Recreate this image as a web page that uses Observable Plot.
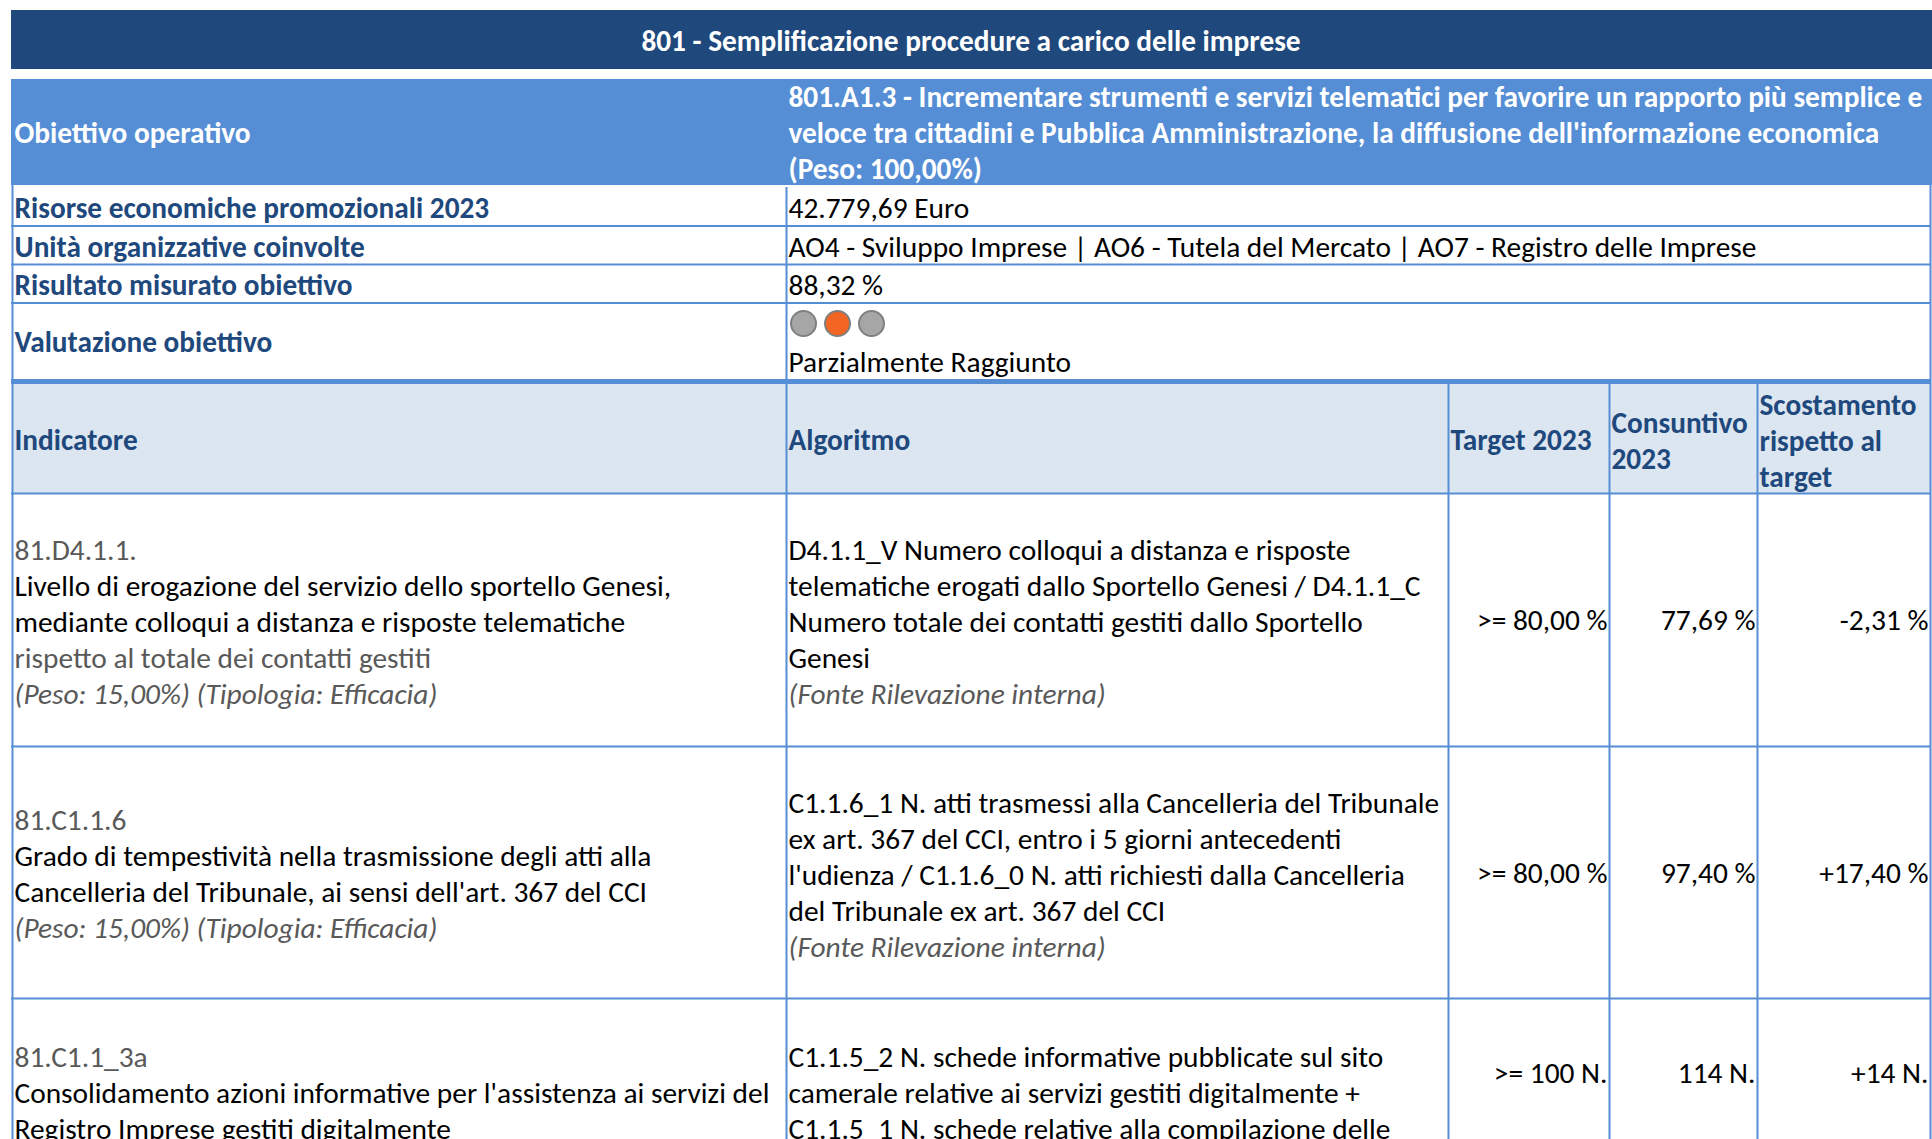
<!DOCTYPE html>
<html>
<head>
<meta charset="utf-8">
<script src="https://cdn.jsdelivr.net/npm/d3@7"></script>
<script src="https://cdn.jsdelivr.net/npm/@observablehq/plot@0.6"></script>
<style>
  html, body { margin: 0; padding: 0; background: #ffffff; }
  svg { display: block; }
</style>
</head>
<body>
<div id="chart"></div>
<script>
// ---------------- DATA ----------------
const titleText = "801 - Semplificazione procedure a carico delle imprese";
const infoLabels = [
  "Obiettivo operativo",
  "Risorse economiche promozionali 2023",
  "Unità organizzative coinvolte",
  "Risultato misurato obiettivo",
  "Valutazione obiettivo"
];
const obiettivoLines = [
  "801.A1.3 - Incrementare strumenti e servizi telematici per favorire un rapporto più semplice e",
  "veloce tra cittadini e Pubblica Amministrazione, la diffusione dell'informazione economica",
  "(Peso: 100,00%)"
];
const risorseValue = "42.779,69 Euro";
const unitaValue = "AO4 - Sviluppo Imprese | AO6 - Tutela del Mercato | AO7 - Registro delle Imprese";
const risultatoValue = "88,32 %";
const valutazioneValue = "Parzialmente Raggiunto";
const semaforoStates = ["off", "on", "off"];

const headerLabels = [
  ["Indicatore"],
  ["Algoritmo"],
  ["Target 2023"],
  ["Consuntivo", "2023"],
  ["Scostamento", "rispetto al", "target"]
];

const indicatorCodes = ["81.D4.1.1.", "81.C1.1.6", "81.C1.1_3a"];
const indicatorNames = [
  ["Livello di erogazione del servizio dello sportello Genesi,", "mediante colloqui a distanza e risposte telematiche"],
  ["Grado di tempestività nella trasmissione degli atti alla", "Cancelleria del Tribunale, ai sensi dell'art. 367 del CCI"],
  ["Consolidamento azioni informative per l'assistenza ai servizi del", "Registro Imprese gestiti digitalmente"]
];
const indicatorNotes = [
  ["rispetto al totale dei contatti gestiti"],
  [],
  []
];
const indicatorPeso = [
  "(Peso: 15,00%) (Tipologia: Efficacia)",
  "(Peso: 15,00%) (Tipologia: Efficacia)",
  "(Peso: 15,00%) (Tipologia: Efficacia)"
];
const algoritmi = [
  ["D4.1.1_V Numero colloqui a distanza e risposte", "telematiche erogati dallo Sportello Genesi / D4.1.1_C", "Numero totale dei contatti gestiti dallo Sportello", "Genesi"],
  ["C1.1.6_1 N. atti trasmessi alla Cancelleria del Tribunale", "ex art. 367 del CCI, entro i 5 giorni antecedenti", "l'udienza / C1.1.6_0 N. atti richiesti dalla Cancelleria", "del Tribunale ex art. 367 del CCI"],
  ["C1.1.5_2 N. schede informative pubblicate sul sito", "camerale relative ai servizi gestiti digitalmente +", "C1.1.5_1 N. schede relative alla compilazione delle"]
];
const fonteText = "(Fonte Rilevazione interna)";
const targets = [">= 80,00 %", ">= 80,00 %", ">= 100 N."];
const consuntivi = ["77,69 %", "97,40 %", "114 N."];
const scostamenti = ["-2,31 %", "+17,40 %", "+14 N."];

// ---------------- LAYOUT ----------------
const W = 1932, H = 1139;
const FONT = "Calibri, Carlito, Lato, sans-serif";
const LH = 36;                               // line height
const colB = [12, 786, 1448, 1609, 1757, 1930]; // column borders
const padL = 2, padR = 2;
const C = {
  dark: "#1F497D", mid: "#558ED5", pale: "#DCE6F1",
  label: "#1F497D", text: "#000000", gray: "#595959",
  on: "#F26522", off: "#A6A6A6", offStroke: "#7F7F7F"
};
const infoY = [133, 208, 247, 285, 342];
const rowsLayout = [
  {top: 493, valueY: 620, indFirst: 550, algFirst: 550},
  {top: 746, valueY: 873, indFirst: 820, algFirst: 803},
  {top: 998, valueY: 1073, indFirst: 1057, algFirst: 1057}
];

// ---------------- BUILD ----------------
const bands = [
  {x1: 11, x2: 1932, y1: 10, y2: 69, fill: C.dark},
  {x1: 11, x2: 1932, y1: 79, y2: 185, fill: C.mid},
  {x1: 12, x2: 1931, y1: 384, y2: 493, fill: C.pale},
  {x1: 11, x2: 1931, y1: 379, y2: 384, fill: C.mid}
];
const hRules = [
  {y: 225.5, x1: 11, x2: 1931},
  {y: 264, x1: 11, x2: 1931},
  {y: 302.5, x1: 11, x2: 1931},
  {y: 493, x1: 11, x2: 1931},
  {y: 746, x1: 11, x2: 1931},
  {y: 998, x1: 11, x2: 1931}
];
const vRules = [
  {x: colB[0], y1: 185, y2: H},
  {x: colB[1], y1: 187, y2: H},
  {x: colB[5], y1: 185, y2: H},
  {x: colB[2], y1: 384, y2: H},
  {x: colB[3], y1: 384, y2: H},
  {x: colB[4], y1: 384, y2: H}
];

const whiteBold = [];
const labelBold = [];
const plain = [];
const grayPlain = [];
const grayItalic = [];
const rightPlain = [];

whiteBold.push({x: (11 + 1930) / 2, y: 41, t: titleText, a: "middle"});
whiteBold.push({x: colB[0] + padL, y: infoY[0], t: infoLabels[0], a: "start"});
obiettivoLines.forEach((t, i) => whiteBold.push({x: colB[1] + padL, y: 97 + i * LH, t, a: "start"}));
infoLabels.slice(1).forEach((t, i) => labelBold.push({x: colB[0] + padL, y: infoY[i + 1], t}));
plain.push({x: colB[1] + padL, y: infoY[1], t: risorseValue});
plain.push({x: colB[1] + padL, y: infoY[2], t: unitaValue});
plain.push({x: colB[1] + padL, y: infoY[3], t: risultatoValue});
plain.push({x: colB[1] + padL, y: 362, t: valutazioneValue});
const lights = semaforoStates.map((s, i) => ({x: 803 + i * 34, y: 323, fill: s === "on" ? C.on : C.off}));

const hdrTop = [440, 440, 440, 423, 405];
headerLabels.forEach((lines, c) => lines.forEach((t, i) =>
  labelBold.push({x: colB[c] + padL, y: hdrTop[c] + i * LH, t})));

rowsLayout.forEach((r, k) => {
  let y = r.indFirst;
  grayPlain.push({x: colB[0] + padL, y, t: indicatorCodes[k]}); y += LH;
  indicatorNames[k].forEach(t => { plain.push({x: colB[0] + padL, y, t}); y += LH; });
  indicatorNotes[k].forEach(t => { grayPlain.push({x: colB[0] + padL, y, t}); y += LH; });
  grayItalic.push({x: colB[0] + padL, y, t: indicatorPeso[k]});
  let ya = r.algFirst;
  algoritmi[k].forEach(t => { plain.push({x: colB[1] + padL, y: ya, t}); ya += LH; });
  grayItalic.push({x: colB[1] + padL, y: ya, t: fonteText});
  rightPlain.push({x: colB[3] - padR, y: r.valueY, t: targets[k]});
  rightPlain.push({x: colB[4] - padR, y: r.valueY, t: consuntivi[k]});
  rightPlain.push({x: colB[5] - padR, y: r.valueY, t: scostamenti[k]});
});

const FS = 29.4, FSB = 29.3;
const common = {x: "x", y: "y", text: "t", lineAnchor: "middle", fontFamily: FONT};

const chart = Plot.plot({
  width: W, height: H,
  margin: 0,
  x: {domain: [0, W], range: [0, W], axis: null},
  y: {domain: [0, H], range: [0, H], axis: null},
  style: {background: "#ffffff"},
  marks: [
    Plot.rect(bands, {x1: "x1", x2: "x2", y1: "y1", y2: "y2", fill: "fill"}),
    Plot.ruleY(hRules, {y: "y", x1: "x1", x2: "x2", stroke: C.mid, strokeWidth: 2}),
    Plot.ruleX(vRules, {x: "x", y1: "y1", y2: "y2", stroke: C.mid, strokeWidth: 2}),
    Plot.dot(lights, {x: "x", y: "y", r: 12.5, fill: "fill", stroke: C.offStroke, strokeWidth: 2}),
    Plot.text(whiteBold.filter(d => d.a === "middle"), {...common, textAnchor: "middle", fill: "#ffffff", fontWeight: "bold", fontSize: FSB}),
    Plot.text(whiteBold.filter(d => d.a === "start"), {...common, textAnchor: "start", fill: "#ffffff", fontWeight: "bold", fontSize: FSB}),
    Plot.text(labelBold, {...common, textAnchor: "start", fill: C.label, fontWeight: "bold", fontSize: FSB}),
    Plot.text(plain, {...common, textAnchor: "start", fill: C.text, fontSize: FS}),
    Plot.text(grayPlain, {...common, textAnchor: "start", fill: C.gray, fontSize: FS}),
    Plot.text(grayItalic, {...common, textAnchor: "start", fill: C.gray, fontStyle: "italic", fontSize: FS}),
    Plot.text(rightPlain, {...common, textAnchor: "end", fill: C.text, fontSize: FS})
  ]
});
document.getElementById("chart").appendChild(chart);
</script>
</body>
</html>
